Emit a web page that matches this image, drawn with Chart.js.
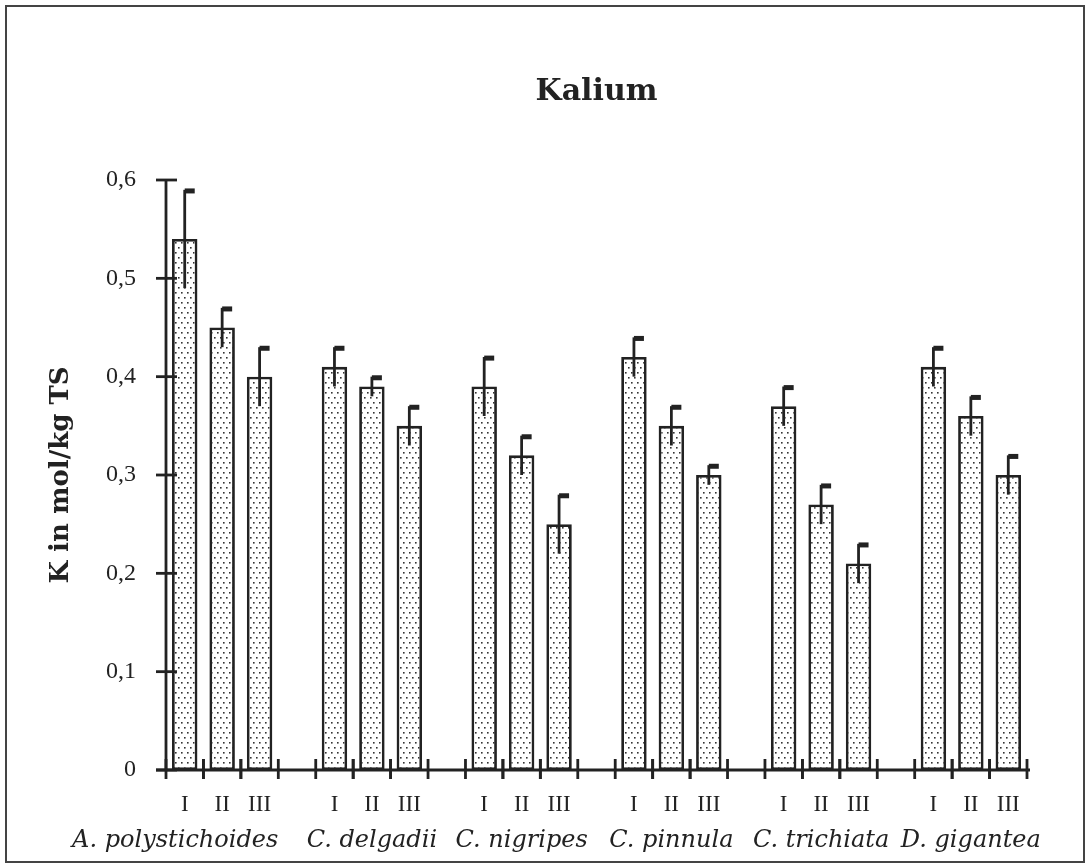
<!DOCTYPE html>
<html>
<head>
<meta charset="utf-8">
<script src="https://cdn.jsdelivr.net/npm/chart.js@4/dist/chart.umd.min.js"></script>
<style>
  html, body { margin: 0; padding: 0; background: #fff; }
  #wrap { width: 1087px; height: 867px; }
</style>
</head>
<body>
<div id="wrap"><canvas id="kalium" width="1087" height="867"></canvas></div>
<script>
// Arten und Standorte
var species = ['A. polystichoides', 'C. delgadii', 'C. nigripes', 'C. pinnula', 'C. trichiata', 'D. gigantea'];
var sites = ['I', 'II', 'III'];

// Mittelwerte K (mol/kg TS) je Standort
var meanI   = [0.54, 0.41, 0.39, 0.42, 0.37, 0.41];
var meanII  = [0.45, 0.39, 0.32, 0.35, 0.27, 0.36];
var meanIII = [0.40, 0.35, 0.25, 0.30, 0.21, 0.30];

// Standardabweichung
var errI   = [0.05, 0.02, 0.03, 0.02, 0.02, 0.02];
var errII  = [0.02, 0.01, 0.02, 0.02, 0.02, 0.02];
var errIII = [0.03, 0.02, 0.03, 0.01, 0.02, 0.02];

var yTicks = [0, 0.1, 0.2, 0.3, 0.4, 0.5, 0.6];

// flache Listen fuer die Kategorie-Achse, mit Luecke zwischen den Arten
var labels = [], values = [], errors = [], groupMid = [];
var means = [meanI, meanII, meanIII];
var errs = [errI, errII, errIII];
for (var g = 0; g < species.length; g++) {
    for (var s = 0; s < sites.length; s++) {
        if (s == 1) groupMid.push(labels.length);
        labels.push(sites[s]);
        values.push(means[s][g]);
        errors.push(errs[s][g]);
    }
    if (g < species.length - 1) {
        labels.push('');
        values.push(null);
        errors.push(null);
    }
}

var ink = '#222';

function dotPattern() {
    var c = document.createElement('canvas');
    c.width = 6; c.height = 10;
    var g = c.getContext('2d');
    g.fillStyle = '#fff';
    g.fillRect(0, 0, 6, 10);
    g.fillStyle = '#333';
    g.fillRect(1, 2, 1.6, 1.6);
    g.fillRect(4, 7, 1.6, 1.6);
    return g.createPattern(c, 'repeat');
}

var framePlugin = {
    id: 'frame',
    beforeDraw: function(chart) {
        var ctx = chart.ctx;
        ctx.save();
        ctx.fillStyle = '#fff';
        ctx.fillRect(0, 0, chart.width, chart.height);
        ctx.strokeStyle = '#444';
        ctx.lineWidth = 2;
        ctx.strokeRect(6, 6, chart.width - 9, chart.height - 11);
        ctx.restore();
    }
};

var axesPlugin = {
    id: 'axes',
    afterDatasetsDraw: function(chart) {
        var ctx = chart.ctx, x = chart.scales.x, y = chart.scales.y;
        var area = chart.chartArea;
        var y0 = y.getPixelForValue(0);
        ctx.save();
        ctx.strokeStyle = ink;
        ctx.fillStyle = ink;
        ctx.lineWidth = 2.8;

        // Fehlerbalken mit Faehnchen
        var meta = chart.getDatasetMeta(0);
        meta.data.forEach(function(bar, i) {
            if (values[i] == null) return;
            var top = y.getPixelForValue(values[i] + errors[i]);
            var bot = y.getPixelForValue(values[i] - errors[i]);
            ctx.beginPath();
            ctx.moveTo(bar.x, bot);
            ctx.lineTo(bar.x, top);
            ctx.stroke();
            ctx.fillRect(bar.x, top - 1.4, 10, 5);
        });

        // y-Achse
        ctx.beginPath();
        ctx.moveTo(area.left, y0);
        ctx.lineTo(area.left, y.getPixelForValue(yTicks[yTicks.length - 1]));
        ctx.stroke();
        yTicks.forEach(function(v) {
            var py = y.getPixelForValue(v);
            ctx.beginPath();
            ctx.moveTo(area.left - 10, py);
            ctx.lineTo(area.left + 11, py);
            ctx.stroke();
        });

        // x-Achse
        ctx.beginPath();
        ctx.moveTo(area.left - 10, y0);
        ctx.lineTo(area.right + 3, y0);
        ctx.stroke();
        var half = (x.getPixelForValue(1) - x.getPixelForValue(0)) / 2;
        values.forEach(function(v, i) {
            if (v == null) return;
            [x.getPixelForValue(i) - half, x.getPixelForValue(i) + half].forEach(function(px) {
                ctx.beginPath();
                ctx.moveTo(px, y0 - 11);
                ctx.lineTo(px, y0 + 9);
                ctx.stroke();
            });
        });

        // Artnamen unter den Gruppen; ein zu langer Name endet am Gruppenrand
        ctx.font = 'italic 24px "DejaVu Serif"';
        ctx.textBaseline = 'middle';
        ctx.textAlign = 'left';
        var widths = species.map(function(n) { return ctx.measureText(n).width; });
        var lefts = species.map(function(n, g) { return x.getPixelForValue(groupMid[g]) - widths[g] / 2; });
        species.forEach(function(name, g) {
            var left = lefts[g];
            if (g < species.length - 1 && left + widths[g] > lefts[g + 1] - 5) {
                left = x.getPixelForValue(groupMid[g] + 1) + half - widths[g];
            }
            ctx.fillText(name, Math.max(left, 66), 841);
        });
        ctx.restore();
    }
};

var ctx = document.getElementById('kalium');
var chart = new Chart(ctx, {
    type: 'bar',
    data: {
        labels: labels,
        datasets: [{
            data: values,
            backgroundColor: dotPattern(),
            borderColor: ink,
            borderWidth: 2.8,
            borderSkipped: false,
            barPercentage: 0.68,
            categoryPercentage: 1.0
        }]
    },
    options: {
        responsive: false,
        devicePixelRatio: 1,
        animation: false,
        layout: { padding: { left: 0, right: 60, top: 0, bottom: 5 } },
        plugins: {
            legend: { display: false },
            tooltip: { enabled: false },
            title: {
                display: true,
                text: 'Kalium',
                fullSize: false,
                color: ink,
                font: { family: 'DejaVu Serif', weight: 'bold', size: 30 },
                padding: { top: 74, bottom: 70 }
            }
        },
        scales: {
            x: {
                type: 'category',
                offset: true,
                grid: { display: false, drawTicks: false },
                border: { display: false },
                ticks: {
                    autoSkip: false, maxRotation: 0, padding: 21,
                    color: ink,
                    font: { family: 'Liberation Serif', size: 23 }
                },
                afterFit: function(s) { s.height = 92; }
            },
            y: {
                min: 0,
                max: 0.6,
                grid: { display: false, drawTicks: false },
                border: { display: false },
                ticks: {
                    stepSize: 0.1,
                    padding: 30,
                    color: ink,
                    font: { family: 'Liberation Serif', size: 24 },
                    callback: function(v) { return v.toFixed(1).replace('.', ',').replace('0,0', '0'); }
                },
                title: {
                    display: true,
                    text: 'K in mol/kg TS',
                    color: ink,
                    font: { family: 'DejaVu Serif', weight: 'bold', size: 26 },
                    padding: { top: 46, bottom: 0 }
                },
                afterFit: function(s) { s.width = 166; }
            }
        }
    },
    plugins: [framePlugin, axesPlugin]
});
</script>
</body>
</html>
